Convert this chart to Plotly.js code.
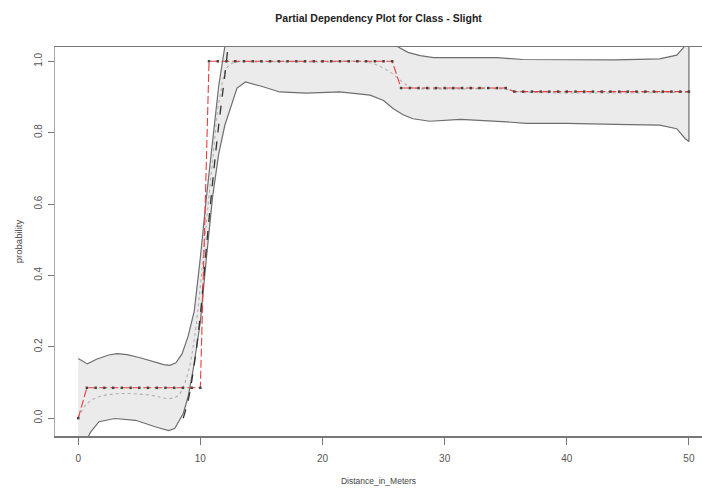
<!DOCTYPE html>
<html>
<head>
<meta charset="utf-8">
<script src="https://cdn.plot.ly/plotly-3.0.1.min.js"></script>
<style>html,body{margin:0;padding:0;background:#fff;}#chart{width:702px;height:494px;}</style>
</head>
<body>
<div id="chart"></div>
<script>
// Band: upper bound
const upperX = [0, 0.75, 1.5, 2.5, 3.2, 4, 5, 6, 7, 7.5, 8, 8.5, 9.0, 9.5, 10.0, 10.5, 11.0, 11.5, 12.0, 13, 16, 20, 24, 26.2, 27, 28, 29.1, 32.1, 34.3, 36.4, 40, 44, 47.6, 49.0, 49.5, 50.0];
const upperY = [0.167, 0.152, 0.165, 0.177, 0.181, 0.178, 0.17, 0.16, 0.15, 0.148, 0.155, 0.18, 0.23, 0.3, 0.45, 0.62, 0.78, 0.93, 1.04, 1.1, 1.12, 1.12, 1.1, 1.04, 1.025, 1.016, 1.01, 1.011, 1.01, 1.005, 1.004, 1.004, 1.007, 1.017, 1.036, 1.06];
// Band: lower bound
const lowerX = [0, 0.7, 1.0, 1.7, 3.0, 4.7, 6.3, 7.4, 7.9, 8.6, 9.0, 9.4, 9.7, 10.0, 10.5, 11.0, 11.5, 12.0, 12.5, 13.0, 13.7, 15, 16.5, 18.7, 21.4, 23.9, 25, 25.8, 26.6, 27.4, 28.8, 31.3, 35.1, 36.7, 40, 44, 47.6, 49.0, 49.7, 50.0];
const lowerY = [-0.15, -0.06, -0.04, -0.01, -0.001, -0.006, -0.024, -0.035, -0.029, 0.013, 0.06, 0.134, 0.2, 0.27, 0.45, 0.62, 0.74, 0.82, 0.875, 0.925, 0.942, 0.93, 0.914, 0.911, 0.914, 0.905, 0.89, 0.867, 0.85, 0.839, 0.832, 0.837, 0.830, 0.826, 0.826, 0.823, 0.821, 0.811, 0.783, 0.775];
// Smoothed mean (grey dotted)
const meanX = [0, 0.7, 1.7, 3.6, 6.0, 7.4, 8.2, 8.9, 9.5, 10.0, 10.5, 11.0, 11.6, 12.4, 15, 20, 23.6, 25.3, 26.9, 27.5, 35, 36, 50];
const meanY = [0.0, 0.04, 0.06, 0.069, 0.064, 0.055, 0.064, 0.116, 0.22, 0.37, 0.55, 0.72, 0.9, 0.99, 0.998, 0.998, 0.998, 0.975, 0.933, 0.925, 0.922, 0.915, 0.913];
// Dark dashed steep curve
const steepX = [8.6, 9.0, 9.5, 10.0, 10.5, 11.0, 11.5, 12.0, 12.3];
const steepY = [0.0, 0.05, 0.15, 0.29, 0.48, 0.66, 0.82, 0.96, 1.05];
// Partial dependence (red, with point markers)
const pdX = [0, 0.71, 1.43, 2.14, 2.86, 3.57, 4.29, 5.0, 5.71, 6.43, 7.14, 7.86, 8.57, 9.29, 10.0, 10.71, 11.43, 12.14, 12.86, 13.57, 14.29, 15.0, 15.71, 16.43, 17.14, 17.86, 18.57, 19.29, 20.0, 20.71, 21.43, 22.14, 22.86, 23.57, 24.29, 25.0, 25.71, 26.43, 27.14, 27.86, 28.57, 29.29, 30.0, 30.71, 31.43, 32.14, 32.86, 33.57, 34.29, 35.0, 35.71, 36.43, 37.14, 37.86, 38.57, 39.29, 40.0, 40.71, 41.43, 42.14, 42.86, 43.57, 44.29, 45.0, 45.71, 46.43, 47.14, 47.86, 48.57, 49.29, 50.0];
const pdY = [0.0, 0.085, 0.085, 0.085, 0.085, 0.085, 0.085, 0.085, 0.085, 0.085, 0.085, 0.085, 0.085, 0.085, 0.085, 1.0, 1.0, 1.0, 1.0, 1.0, 1.0, 1.0, 1.0, 1.0, 1.0, 1.0, 1.0, 1.0, 1.0, 1.0, 1.0, 1.0, 1.0, 1.0, 1.0, 1.0, 1.0, 0.925, 0.925, 0.925, 0.925, 0.925, 0.925, 0.925, 0.925, 0.925, 0.925, 0.925, 0.925, 0.925, 0.915, 0.915, 0.915, 0.915, 0.915, 0.915, 0.915, 0.915, 0.915, 0.915, 0.915, 0.915, 0.915, 0.915, 0.915, 0.915, 0.915, 0.915, 0.915, 0.915, 0.915];

const xTicks = [0, 10, 20, 30, 40, 50];
const yTicks = [0, 0.2, 0.4, 0.6, 0.8, 1.0];
const yTickText = ['0.0', '0.2', '0.4', '0.6', '0.8', '1.0'];

const bandX = upperX.concat(lowerX.slice().reverse());
const bandY = upperY.concat(lowerY.slice().reverse());

const FONT = 'Liberation Sans Narrow, Arial Narrow, Liberation Sans, sans-serif';

const traces = [
  {x: bandX, y: bandY, type: 'scatter', mode: 'lines', fill: 'toself', fillcolor: '#ebebeb',
   line: {color: '#6e6e6e', width: 1.2}, hoverinfo: 'skip'},
  {x: meanX, y: meanY, type: 'scatter', mode: 'lines', line: {color: '#b0b0b0', width: 1.1, dash: 'dot', shape: 'spline'}},
  {x: steepX, y: steepY, type: 'scatter', mode: 'lines', line: {color: '#333', width: 1.3, dash: 'dash', shape: 'spline'}},
  {x: pdX, y: pdY, type: 'scatter', mode: 'lines+markers', line: {color: '#ee3b3b', width: 1.1, dash: '8px,3px'},
   marker: {color: '#444', size: 2.5, symbol: 'square'}}
];

const layout = {
  width: 702, height: 494,
  margin: {l: 55, r: 0, t: 47, b: 58},
  paper_bgcolor: '#fff', plot_bgcolor: '#fff',
  showlegend: false,
  title: {text: '<b>Partial Dependency Plot for Class - Slight</b>', x: 0.5393, xanchor: 'center', y: 0.963, yanchor: 'middle',
          font: {family: FONT, size: 10.5, color: '#222'}},
  xaxis: {range: [-1.9, 51.07], tickvals: xTicks, ticktext: xTicks.map(String), ticks: 'outside', ticklen: 7, tickcolor: '#777',
          showline: true, linecolor: '#777', linewidth: 1.5, mirror: true, showgrid: false, zeroline: false,
          ticklabelstandoff: 5,
          tickfont: {family: FONT, size: 10, color: '#555'},
          title: {text: 'Distance_in_Meters', standoff: 15, font: {family: FONT, size: 8.5, color: '#444'}}},
  yaxis: {range: [-0.05, 1.04], tickvals: yTicks, ticktext: yTickText, ticks: 'outside', ticklen: 6, tickcolor: '#777',
          showline: true, linecolor: '#aaa', linewidth: 1, mirror: true, showgrid: false, zeroline: false,
          tickangle: -90, ticklabelstandoff: 2,
          tickfont: {family: FONT, size: 10, color: '#555'},
          title: {text: 'probability', standoff: 8, font: {family: FONT, size: 9.5, color: '#444'}}}
};

Plotly.newPlot('chart', traces, layout, {displayModeBar: false, staticPlot: true});
</script>
</body>
</html>
